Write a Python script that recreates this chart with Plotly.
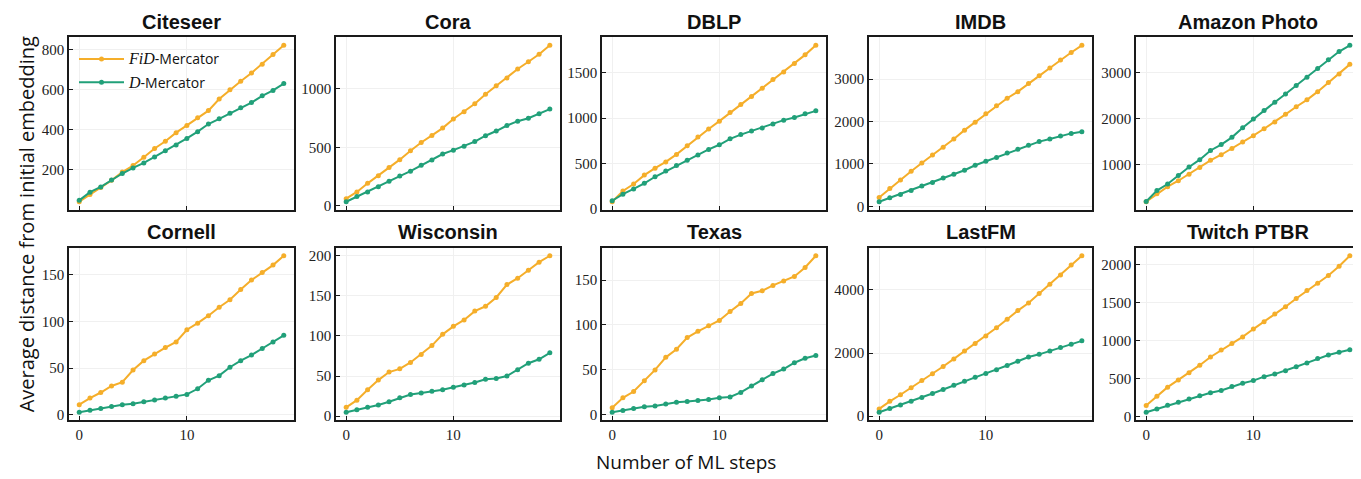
import plotly.graph_objects as go

steps = list(range(20))

titles = ["Citeseer", "Cora", "DBLP", "IMDB", "Amazon Photo",
          "Cornell", "Wisconsin", "Texas", "LastFM", "Twitch PTBR"]

fid_citeseer = [41, 77, 112, 148, 189, 222, 263, 307, 343, 386, 422, 460, 496, 554, 600, 643, 684, 728, 776, 822]
d_citeseer = [48, 89, 115, 150, 182, 210, 235, 265, 296, 324, 357, 391, 429, 455, 483, 510, 536, 570, 597, 631]

fid_cora = [62, 120, 193, 258, 328, 395, 471, 541, 602, 664, 742, 804, 871, 952, 1025, 1092, 1168, 1230, 1294, 1370]
d_cora = [36, 81, 120, 165, 210, 255, 297, 347, 392, 443, 476, 510, 549, 599, 639, 686, 723, 748, 787, 826]

fid_dblp = [80, 199, 275, 373, 449, 518, 601, 696, 793, 880, 967, 1062, 1149, 1239, 1330, 1424, 1507, 1601, 1696, 1801]
d_dblp = [91, 163, 221, 283, 355, 417, 478, 536, 594, 656, 707, 772, 819, 859, 891, 935, 978, 1007, 1047, 1080]

fid_imdb = [209, 419, 620, 829, 1023, 1209, 1395, 1589, 1798, 1984, 2186, 2372, 2550, 2705, 2899, 3078, 3264, 3450, 3628, 3798]
d_imdb = [109, 202, 279, 372, 481, 566, 667, 760, 853, 969, 1062, 1155, 1256, 1349, 1442, 1527, 1589, 1659, 1721, 1760]

fid_amazon = [180, 353, 511, 640, 784, 928, 1086, 1209, 1345, 1489, 1626, 1777, 1928, 2094, 2259, 2410, 2590, 2791, 2978, 3187]
d_amazon = [187, 424, 568, 755, 942, 1101, 1302, 1432, 1590, 1799, 1993, 2180, 2360, 2540, 2726, 2906, 3094, 3288, 3468, 3604]

fid_cornell = [11, 18, 24, 31, 35, 48, 58, 65, 72, 78, 91, 98, 106, 115, 123, 134, 144, 152, 160, 170]
d_cornell = [3, 5, 7, 9, 11, 12, 14, 16, 18, 20, 22, 28, 37, 42, 51, 58, 64, 71, 78, 85]

fid_wisconsin = [11, 20, 33, 45, 55, 59, 67, 77, 88, 102, 112, 120, 131, 137, 148, 164, 172, 182, 192, 200]
d_wisconsin = [5, 8, 11, 14, 18, 23, 27, 29, 31, 33, 36, 39, 42, 46, 47, 50, 58, 66, 71, 79]

fid_texas = [8, 19, 26, 38, 50, 64, 73, 86, 93, 99, 105, 115, 124, 135, 138, 144, 149, 154, 164, 177]
d_texas = [3, 5, 7, 9, 10, 12, 14, 15, 16, 17, 19, 20, 25, 32, 39, 46, 51, 58, 63, 66]

fid_lastfm = [229, 469, 677, 896, 1125, 1344, 1573, 1813, 2063, 2302, 2542, 2802, 3073, 3344, 3583, 3885, 4177, 4469, 4792, 5083]
d_lastfm = [125, 240, 354, 469, 594, 719, 844, 979, 1104, 1229, 1354, 1469, 1604, 1740, 1875, 1958, 2063, 2177, 2281, 2385]

fid_twitch = [143, 264, 385, 480, 575, 674, 782, 873, 959, 1046, 1149, 1245, 1348, 1443, 1551, 1655, 1750, 1854, 1975, 2113]
d_twitch = [56, 99, 147, 186, 229, 272, 311, 341, 393, 436, 471, 523, 557, 601, 653, 704, 761, 808, 843, 877]

fid_series = [fid_citeseer, fid_cora, fid_dblp, fid_imdb, fid_amazon,
              fid_cornell, fid_wisconsin, fid_texas, fid_lastfm, fid_twitch]
d_series = [d_citeseer, d_cora, d_dblp, d_imdb, d_amazon,
            d_cornell, d_wisconsin, d_texas, d_lastfm, d_twitch]
y_dticks = [200, 500, 500, 1000, 1000, 50, 50, 50, 2000, 500]

ORANGE = "#F5AE2A"
GREEN = "#21A079"
W, H = 1361, 479

col_px = [(61, 286), (328, 552), (594, 818), (861, 1084), (1128, 1352)]
row_px = [(30, 205), (244, 419)]

SERIF = "Liberation Serif"
SANS = "Open Sans"

fid_name = '<span style="font-family:Liberation Serif;font-size:16px"><i>FiD</i></span>-Mercator'
d_name = '<span style="font-family:Liberation Serif;font-size:16px"><i>D</i></span>-Mercator'

fig = go.Figure()
layout = {}
annotations = []
for i in range(10):
    r, c = divmod(i, 5)
    idx = "" if i == 0 else str(i + 1)
    xa, ya = "x" + idx, "y" + idx
    fig.add_trace(go.Scatter(x=steps, y=fid_series[i], mode="lines+markers",
                             name=fid_name, legendgroup="fid",
                             showlegend=(i == 0),
                             line=dict(color=ORANGE, width=2),
                             marker=dict(color=ORANGE, size=5),
                             xaxis=xa, yaxis=ya))
    fig.add_trace(go.Scatter(x=steps, y=d_series[i], mode="lines+markers",
                             name=d_name, legendgroup="d",
                             showlegend=(i == 0),
                             line=dict(color=GREEN, width=2),
                             marker=dict(color=GREEN, size=5),
                             xaxis=xa, yaxis=ya))
    allv = fid_series[i] + d_series[i]
    lo, hi = min(allv), max(allv)
    pad = 0.05 * (hi - lo)
    x0, x1 = col_px[c]
    y0, y1 = row_px[r]
    axcommon = dict(showline=True, mirror=True, linecolor="#1a1a1a", linewidth=1.5,
                    ticks="inside", ticklen=4, tickwidth=1, tickcolor="#1a1a1a",
                    showgrid=True, gridcolor="#f0f0f0", gridwidth=1, zeroline=False,
                    tickfont=dict(family=SERIF, size=15, color="#222"))
    layout["xaxis" + idx] = dict(axcommon, domain=[x0 / W, x1 / W], anchor=ya,
                                 range=[-0.95, 19.95], tick0=0, dtick=10,
                                 showticklabels=(r == 1))
    layout["yaxis" + idx] = dict(axcommon, domain=[1 - y1 / H, 1 - y0 / H], anchor=xa,
                                 range=[lo - pad, hi + pad], tick0=0, dtick=y_dticks[i])
    annotations.append(dict(text="<b>" + titles[i] + "</b>", xref="paper", yref="paper",
                            x=(x0 + x1) / 2 / W, y=1 - (y0 - 3) / H, xanchor="center", yanchor="bottom",
                            showarrow=False,
                            font=dict(family="Liberation Sans", size=20, color="#111")))

annotations.append(dict(text="Number of ML steps", xref="paper", yref="paper",
                        x=678 / W, y=1 - 462 / H, xanchor="center", yanchor="middle", showarrow=False,
                        font=dict(family=SANS, size=19, color="#111")))
annotations.append(dict(text="Average distance from initial embedding", xref="paper", yref="paper",
                        x=18 / W, y=1 - 220 / H, xanchor="center", yanchor="middle", showarrow=False,
                        textangle=-90,
                        font=dict(family=SANS, size=20, color="#111")))

fig.update_layout(**layout)
fig.update_layout(width=W, height=H, margin=dict(l=0, r=0, t=0, b=0),
                  paper_bgcolor="white", plot_bgcolor="white",
                  annotations=annotations,
                  legend=dict(x=66 / W, y=1 - 36 / H, xanchor="left", yanchor="top",
                              bgcolor="rgba(255,255,255,0)", tracegroupgap=2,
                              font=dict(family=SANS, size=14, color="#111"),
                              itemwidth=45))
fig.write_html("out.html")
